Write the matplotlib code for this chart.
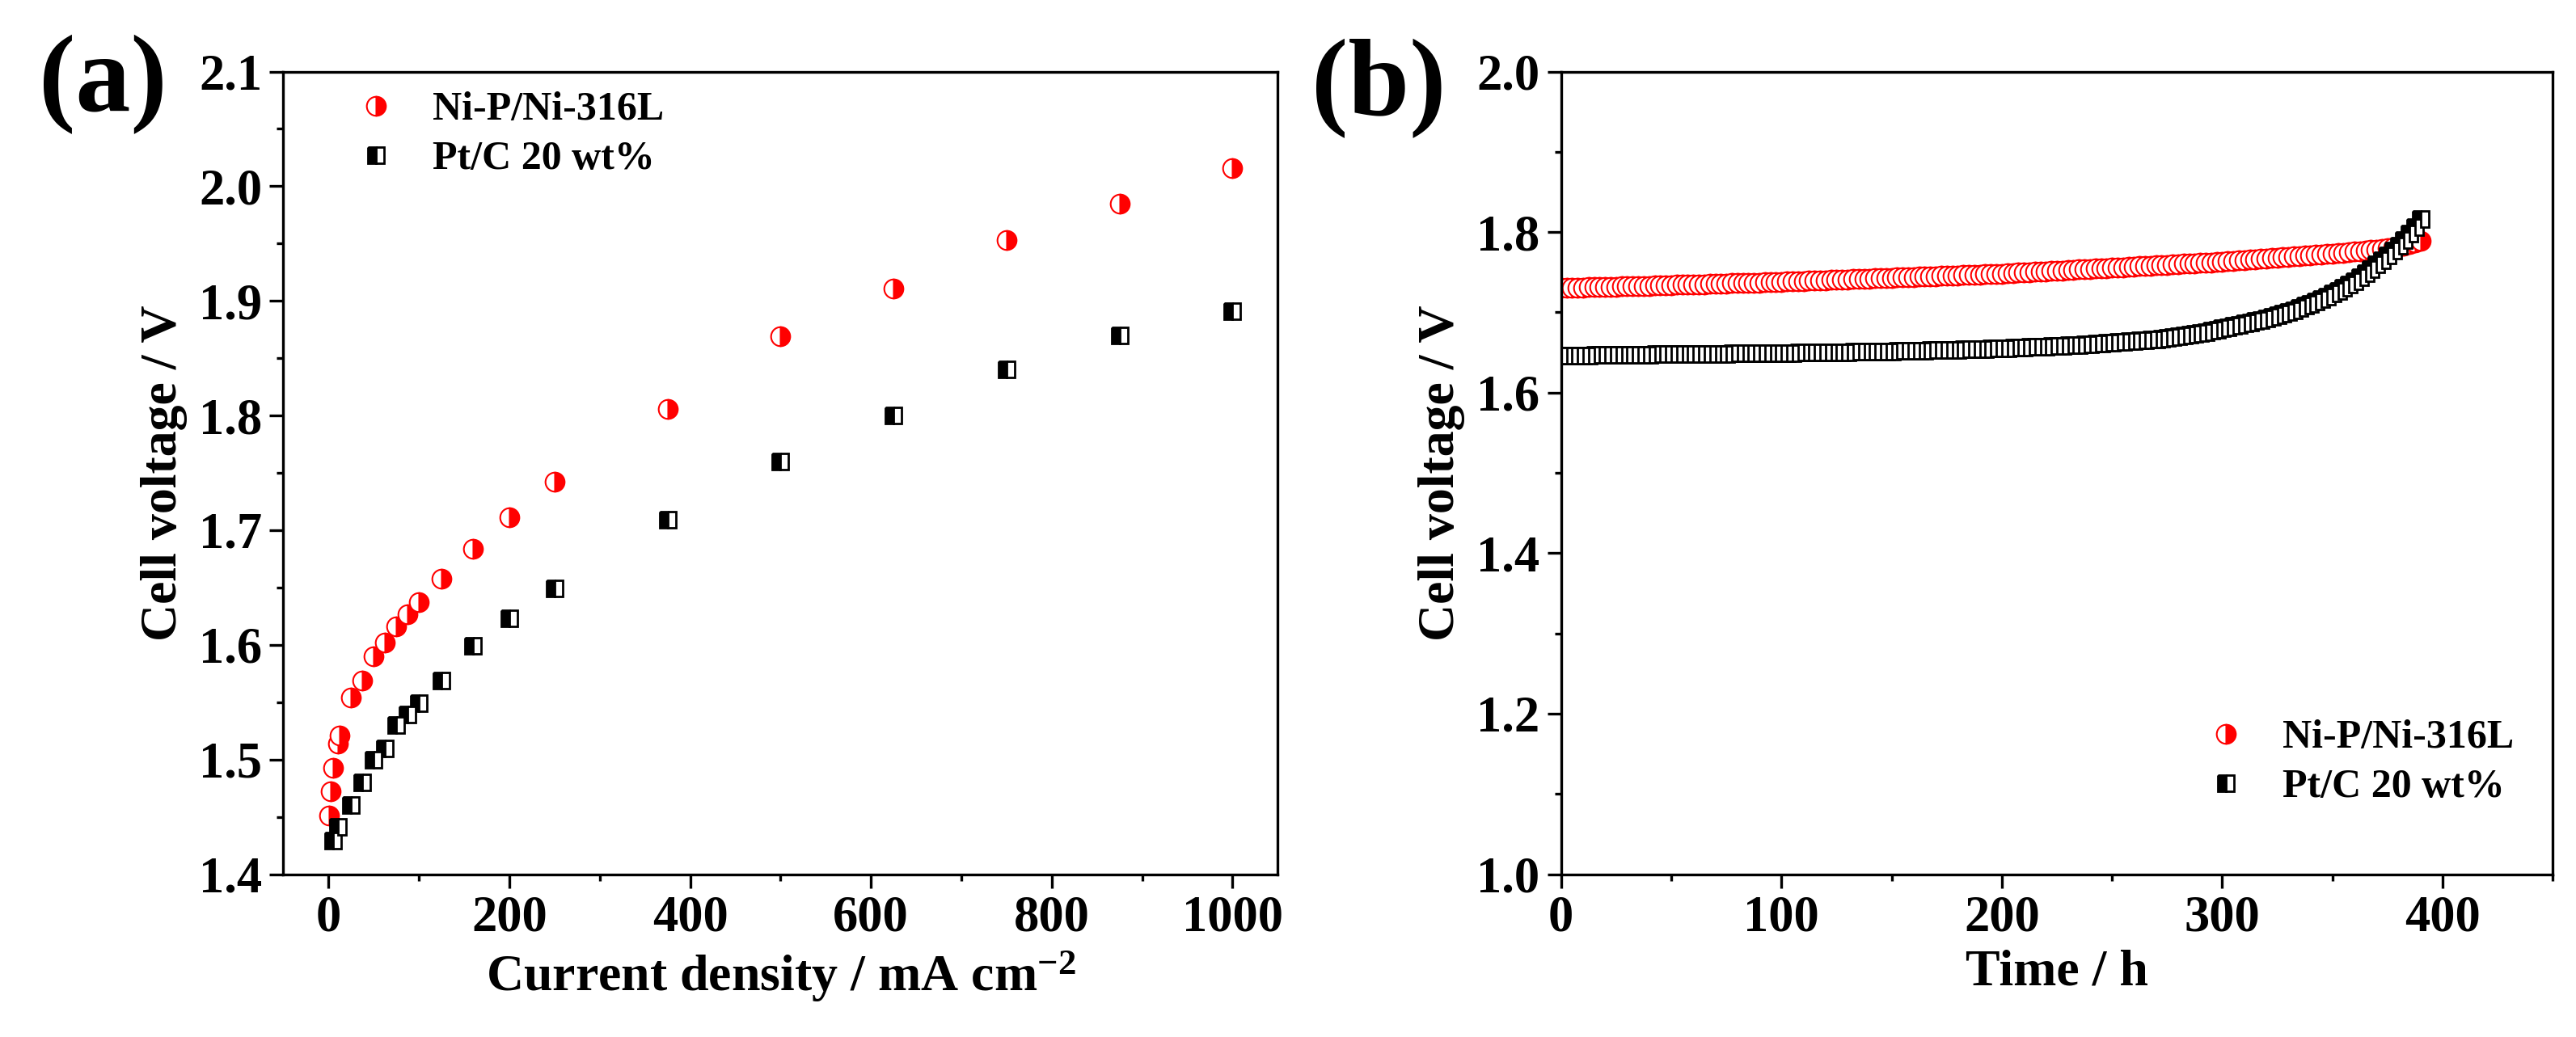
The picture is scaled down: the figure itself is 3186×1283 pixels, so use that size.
import numpy as np
import matplotlib
matplotlib.use("Agg")
import matplotlib.pyplot as plt
from matplotlib.ticker import MultipleLocator

plt.rcParams['font.family'] = ['Liberation Serif', 'DejaVu Serif']
plt.rcParams['font.weight'] = 'bold'
plt.rcParams['mathtext.fontset'] = 'custom'
plt.rcParams['mathtext.rm'] = 'Liberation Serif:bold'
plt.rcParams['mathtext.bf'] = 'Liberation Serif:bold'
plt.rcParams['mathtext.default'] = 'bf'

# (a) polarization curves
j_nip = [1, 2.5, 5, 10, 12.5, 25, 37.5, 50, 62.5, 75, 87.5, 100, 125, 160, 200, 250,
         375, 500, 625, 750, 875, 1000]
v_nip = [1.451, 1.472, 1.493, 1.514, 1.521, 1.554, 1.569, 1.590, 1.602, 1.616, 1.627,
         1.637, 1.658, 1.684, 1.711, 1.742, 1.806, 1.869, 1.911, 1.953, 1.985, 2.016]
j_ptc = [5, 10, 25, 37.5, 50, 62.5, 75, 87.5, 100, 125, 160, 200, 250,
         375, 500, 625, 750, 875, 1000]
v_ptc = [1.429, 1.441, 1.460, 1.480, 1.500, 1.510, 1.530, 1.539, 1.549, 1.569, 1.599,
         1.623, 1.649, 1.709, 1.760, 1.800, 1.840, 1.870, 1.891]

# (b) stability test, one reading every 2.5 h
t_h = np.arange(0, 392.5, 2.5)
v_nip_t = [1.731, 1.731, 1.731, 1.731, 1.731, 1.732, 1.732, 1.732, 1.732, 1.732,
           1.732, 1.733, 1.733, 1.733, 1.733, 1.733, 1.733, 1.734, 1.734, 1.734,
           1.734, 1.735, 1.735, 1.735, 1.735, 1.735, 1.735, 1.736, 1.736, 1.736,
           1.736, 1.737, 1.737, 1.737, 1.737, 1.737, 1.737, 1.738, 1.738, 1.738,
           1.738,
           1.739, 1.739, 1.739, 1.739, 1.740, 1.740, 1.740, 1.740, 1.741, 1.741,
           1.741, 1.741, 1.742, 1.742, 1.742, 1.742, 1.743, 1.743, 1.743, 1.743,
           1.744, 1.744, 1.744, 1.744, 1.745, 1.745, 1.745, 1.745, 1.746, 1.746,
           1.746, 1.746, 1.747, 1.747, 1.747, 1.747, 1.748, 1.748, 1.748, 1.748,
           1.749, 1.749, 1.750, 1.750, 1.750, 1.751, 1.751, 1.751, 1.752, 1.752,
           1.752, 1.753, 1.753, 1.754, 1.754, 1.754, 1.755, 1.755, 1.755, 1.756,
           1.756, 1.756, 1.757, 1.757, 1.758, 1.758, 1.758, 1.759, 1.759, 1.759,
           1.760, 1.760, 1.761, 1.761, 1.761, 1.762, 1.762, 1.762, 1.763, 1.763,
           1.764, 1.764, 1.765, 1.765, 1.766, 1.766, 1.767, 1.767, 1.768, 1.768,
           1.769, 1.769, 1.770, 1.770, 1.771, 1.771, 1.772, 1.772, 1.773, 1.773,
           1.774, 1.774, 1.775, 1.776, 1.776, 1.777, 1.778, 1.778, 1.779, 1.780,
           1.781, 1.782, 1.783, 1.785, 1.787, 1.789]
v_ptc_t = [1.646, 1.646, 1.646, 1.646, 1.646, 1.646, 1.647, 1.647, 1.647, 1.647,
           1.647, 1.647, 1.647, 1.647, 1.647, 1.647, 1.647, 1.648, 1.648, 1.648,
           1.648, 1.648, 1.648, 1.648, 1.648, 1.648, 1.648, 1.648, 1.648, 1.648,
           1.648, 1.649, 1.649, 1.649, 1.649, 1.649, 1.649, 1.649, 1.649, 1.649,
           1.649,
           1.649, 1.649, 1.650, 1.650, 1.650, 1.650, 1.650, 1.650, 1.650, 1.650,
           1.650, 1.650, 1.651, 1.651, 1.651, 1.651, 1.651, 1.651, 1.651, 1.651,
           1.652, 1.652, 1.652, 1.652, 1.652, 1.652, 1.653, 1.653, 1.653, 1.653,
           1.653, 1.653, 1.654, 1.654, 1.654, 1.654, 1.654, 1.655, 1.655, 1.655,
           1.655, 1.656, 1.656, 1.656, 1.657, 1.657, 1.657, 1.657, 1.658, 1.658,
           1.658, 1.659, 1.659, 1.659, 1.660, 1.660, 1.661, 1.661, 1.662, 1.662,
           1.663, 1.663, 1.664, 1.664, 1.665, 1.665, 1.666, 1.666, 1.667, 1.668,
           1.669, 1.670, 1.671, 1.672, 1.673, 1.674, 1.675, 1.677, 1.678, 1.680,
           1.681, 1.683, 1.684, 1.686, 1.687, 1.689, 1.690, 1.692, 1.694, 1.696,
           1.698, 1.700, 1.702, 1.705, 1.708, 1.711, 1.714, 1.717, 1.720, 1.724,
           1.727, 1.731, 1.735, 1.739, 1.744, 1.749, 1.754, 1.760, 1.765, 1.771,
           1.777, 1.783, 1.790, 1.798, 1.806, 1.816]

red_style = dict(ls='none', marker='o', ms=17, mec='red', mfc='red',
                 fillstyle='right', markerfacecoloralt='white', mew=1.5)
blk_style = dict(ls='none', marker='s', ms=15, mec='black', mfc='black',
                 fillstyle='left', markerfacecoloralt='white', mew=2)

fig = plt.figure(figsize=(31.86, 12.83), dpi=100)
ax1 = fig.add_axes([0.110, 0.157, 0.386, 0.774])
ax2 = fig.add_axes([0.606, 0.157, 0.385, 0.774])

ax1.plot(j_nip, v_nip, label='Ni-P/Ni-316L', **red_style)
ax1.plot(j_ptc, v_ptc, label='Pt/C 20 wt%', **blk_style)
ax1.set_xlim(-50, 1050)
ax1.set_ylim(1.4, 2.1)
ax1.xaxis.set_major_locator(MultipleLocator(200))
ax1.xaxis.set_minor_locator(MultipleLocator(100))
ax1.yaxis.set_major_locator(MultipleLocator(0.1))
ax1.yaxis.set_minor_locator(MultipleLocator(0.05))
ax1.set_xlabel('Current density / mA cm$^{-2}$', fontsize=46, fontweight='bold',
               labelpad=6)
ax1.set_ylabel('Cell voltage / V', fontsize=46, fontweight='bold', labelpad=10)
ax1.legend(loc='upper left', frameon=False, fontsize=36, handlelength=1.0,
           handletextpad=0.9, labelspacing=0.3, borderpad=0, borderaxespad=0,
           bbox_to_anchor=(0.073, 0.975))

ax2.plot(t_h, v_nip_t, label='Ni-P/Ni-316L', **red_style)
ax2.plot(t_h, v_ptc_t, label='Pt/C 20 wt%', **blk_style)
ax2.set_xlim(0, 450)
ax2.set_ylim(1.0, 2.0)
ax2.xaxis.set_major_locator(MultipleLocator(100))
ax2.xaxis.set_minor_locator(MultipleLocator(50))
ax2.yaxis.set_major_locator(MultipleLocator(0.2))
ax2.yaxis.set_minor_locator(MultipleLocator(0.1))
ax2.set_xlabel('Time / h', fontsize=46, fontweight='bold', labelpad=6)
ax2.set_ylabel('Cell voltage / V', fontsize=46, fontweight='bold', labelpad=10)
ax2.legend(loc='lower left', frameon=False, fontsize=36, handlelength=1.0,
           handletextpad=0.9, labelspacing=0.3, borderpad=0, borderaxespad=0,
           bbox_to_anchor=(0.650, 0.085))

for ax in (ax1, ax2):
    for s in ax.spines.values():
        s.set_linewidth(2.4)
    ax.tick_params(which='major', direction='out', length=12, width=2.4,
                   labelsize=45, pad=7, top=False, right=False)
    ax.tick_params(which='minor', direction='out', length=6, width=2.4,
                   top=False, right=False)
    for lab in ax.get_xticklabels() + ax.get_yticklabels():
        lab.set_fontweight('bold')

fig.text(0.015, 0.893, '(a)', fontsize=98, fontweight='bold', va='baseline')
fig.text(0.509, 0.889, '(b)', fontsize=98, fontweight='bold', va='baseline')

fig.savefig('out.png', dpi=100)
